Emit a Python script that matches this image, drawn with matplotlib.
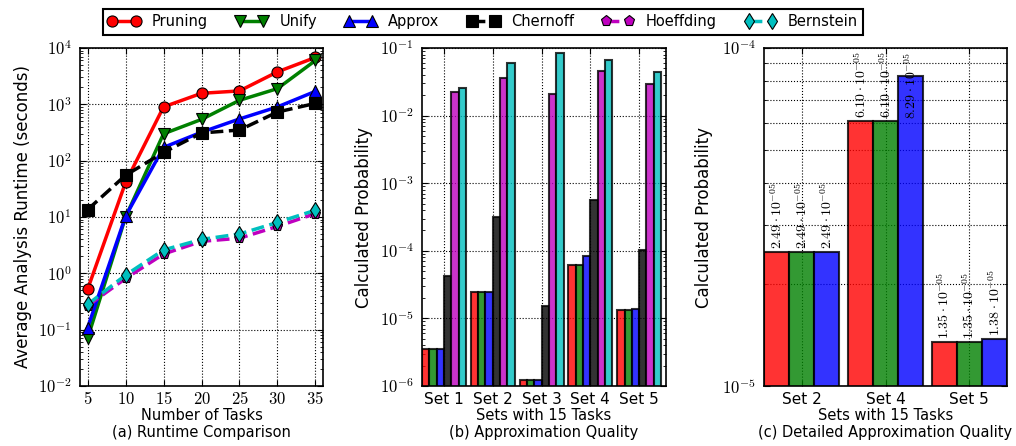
import numpy as np
import matplotlib
matplotlib.use('Agg')
import matplotlib.pyplot as plt
from matplotlib.ticker import FuncFormatter, NullFormatter, LogLocator, FixedLocator

# runtime comparison (a)
tasks = [5, 10, 15, 20, 25, 30, 35]
rt_pruning = [0.52, 41, 900, 1570, 1730, 3770, 6800]
rt_unify = [0.07, 10, 300, 540, 1180, 1900, 6000]
rt_approx = [0.108, 10.3, 172, 320, 550, 900, 1700]
rt_chernoff = [13.5, 55, 140, 310, 350, 730, 1040]
rt_hoeffding = [0.265, 0.81, 2.2, 3.7, 4.2, 6.8, 11.5]
rt_bernstein = [0.28, 0.93, 2.6, 4.0, 5.0, 8.0, 13.2]

# approximation quality (b), sets with 15 tasks
sets = ['Set 1', 'Set 2', 'Set 3', 'Set 4', 'Set 5']
pr_pruning = [3.58e-6, 2.49e-5, 1.24e-6, 6.10e-5, 1.35e-5]
pr_unify = [3.58e-6, 2.49e-5, 1.24e-6, 6.10e-5, 1.35e-5]
pr_approx = [3.58e-6, 2.49e-5, 1.24e-6, 8.29e-5, 1.38e-5]
pr_chernoff = [4.3e-5, 3.16e-4, 1.52e-5, 5.6e-4, 1.03e-4]
pr_hoeffding = [0.0224, 0.0358, 0.0212, 0.046, 0.0298]
pr_bernstein = [0.0255, 0.059, 0.083, 0.066, 0.0436]

# detailed quality (c)
sets_c = ['Set 2', 'Set 4', 'Set 5']
dt_pruning = [2.49e-5, 6.10e-5, 1.35e-5]
dt_unify = [2.49e-5, 6.10e-5, 1.35e-5]
dt_approx = [2.49e-5, 8.29e-5, 1.38e-5]

names = ['Pruning', 'Unify', 'Approx', 'Chernoff', 'Hoeffding', 'Bernstein']
colors = ['r', (0, 0.5, 0), 'b', 'k', (0.75, 0, 0.75), (0, 0.75, 0.75)]
markers = ['o', 'v', '^', 's', 'p', 'd']
styles = ['-', '-', '-', '--', '--', '--']

plt.rcParams['font.family'] = ['DejaVu Sans']
plt.rcParams['mathtext.fontset'] = 'cm'
plt.rcParams['font.size'] = 12
plt.rcParams['xtick.direction'] = 'in'
plt.rcParams['ytick.direction'] = 'in'
plt.rcParams['xtick.top'] = True
plt.rcParams['ytick.right'] = True
plt.rcParams['xtick.major.size'] = 4
plt.rcParams['ytick.major.size'] = 4
plt.rcParams['ytick.minor.size'] = 2
plt.rcParams['ytick.major.pad'] = 6


def pow10(v, pos):
	return r'$10^{%d}$' % int(round(np.log10(v)))


def style_log(ax):
	ax.yaxis.set_major_formatter(FuncFormatter(pow10))
	ax.yaxis.set_minor_formatter(NullFormatter())
	ax.tick_params(axis='y', labelsize=12)
	for sp in ax.spines.values():
		sp.set_linewidth(1.2)


def captions(left, right, xlab, sub):
	cx = (left + right) / 2 / W
	fig.text(cx, 1 - 415 / H, xlab, fontsize=10.5, ha='center', va='center')
	fig.text(cx, 1 - 433 / H, sub, fontsize=10.5, ha='center', va='center')


fig = plt.figure(figsize=(10.16, 4.46), dpi=100)
H = 446.0
W = 1016.0
ylab = 12

# (a)
ax1 = fig.add_axes([80 / W, (H - 386) / H, 243 / W, 338 / H])
runtimes = [rt_pruning, rt_unify, rt_approx, rt_chernoff, rt_hoeffding, rt_bernstein]
handles = []
for i in range(6):
	h, = ax1.plot(tasks, runtimes[i], linestyle=styles[i], color=colors[i], lw=2.5,
				  marker=markers[i], markersize=8, markeredgecolor='k', markeredgewidth=0.8,
				  label=names[i])
	handles.append(h)
ax1.set_yscale('log')
ax1.set_ylim(1e-2, 1e4)
ax1.set_xlim(4, 36)
ax1.set_xticks(tasks)
ax1.set_xticklabels(['$%d$' % t for t in tasks])
ax1.tick_params(axis='x', labelsize=12, pad=3)
ax1.grid(True, which='major', color='k', linestyle=':', lw=0.8)
style_log(ax1)
ax1.set_ylabel('Average Analysis Runtime (seconds)', fontsize=ylab, labelpad=4)
captions(80, 323, 'Number of Tasks', '(a) Runtime Comparison')

# (b)
ax2 = fig.add_axes([422 / W, (H - 386) / H, 244 / W, 338 / H])
probs = [pr_pruning, pr_unify, pr_approx, pr_chernoff, pr_hoeffding, pr_bernstein]
bw = 0.15
x = np.arange(len(sets))
for i in range(6):
	ax2.bar(x - 0.45 + bw * (i + 0.5), probs[i], bw, color=colors[i], alpha=0.8,
			edgecolor='k', linewidth=1.5, zorder=2)
ax2.set_yscale('log')
ax2.set_ylim(1e-6, 1e-1)
ax2.set_xlim(-0.45, 4.55)
ax2.set_xticks(x)
ax2.set_xticklabels(sets)
ax2.tick_params(axis='x', labelsize=11, pad=4)
ax2.grid(True, which='major', color='k', linestyle=':', lw=0.8, zorder=1)
ax2.set_axisbelow(True)
style_log(ax2)
ax2.set_ylabel('Calculated Probability', fontsize=ylab, labelpad=5)
captions(422, 666, 'Sets with 15 Tasks', '(b) Approximation Quality')

# (c)
ax3 = fig.add_axes([764 / W, (H - 386) / H, 243 / W, 338 / H])
details = [dt_pruning, dt_unify, dt_approx]
bw = 0.3
xc = np.arange(len(sets_c))
ytop = 1e-4
for i in range(3):
	xs = xc - 0.45 + bw * (i + 0.5)
	ax3.bar(xs, details[i], bw, color=colors[i], alpha=0.8,
			edgecolor='k', linewidth=1.5, zorder=2)
	for xi, v in zip(xs, details[i]):
		m, e = ('%.2e' % v).split('e')
		txt = r'$%s\cdot10^{%s}$' % (m, e)
		# label that would run out of the axes is hung from the top instead
		if v * 1.02 * 1.6 > ytop:
			ax3.text(xi, ytop * 0.972, txt, rotation=90, ha='center', va='top', fontsize=10)
		else:
			ax3.text(xi, v * 1.02, txt, rotation=90, ha='center', va='bottom', fontsize=10)
ax3.set_yscale('log')
ax3.set_ylim(1e-5, ytop)
ax3.set_xlim(-0.45, 2.45)
ax3.set_xticks(xc)
ax3.set_xticklabels(sets_c)
ax3.tick_params(axis='x', labelsize=11, pad=4)
ax3.yaxis.set_major_locator(FixedLocator([1e-5, 1e-4]))
ax3.yaxis.set_minor_locator(LogLocator(base=10, subs=np.arange(2, 10)))
ax3.grid(True, which='both', axis='y', color='k', linestyle=':', lw=0.8, zorder=1)
ax3.grid(True, which='major', axis='x', color='k', linestyle=':', lw=0.8, zorder=1)
ax3.set_axisbelow(True)
style_log(ax3)
ax3.set_ylabel('Calculated Probability', fontsize=ylab, labelpad=6)
captions(764, 1007, 'Sets with 15 Tasks', '(c) Detailed Approximation Quality')

leg = fig.legend(handles, names, loc='upper center', bbox_to_anchor=(483 / W, 1 - 2 / H),
				 ncol=6, numpoints=2, fontsize=10.5, fancybox=False, framealpha=1,
				 edgecolor='k', handlelength=2.2, handletextpad=0.8, columnspacing=1.9,
				 borderpad=0.35)
leg.get_frame().set_linewidth(1.5)

fig.savefig('out.png', dpi=100)
